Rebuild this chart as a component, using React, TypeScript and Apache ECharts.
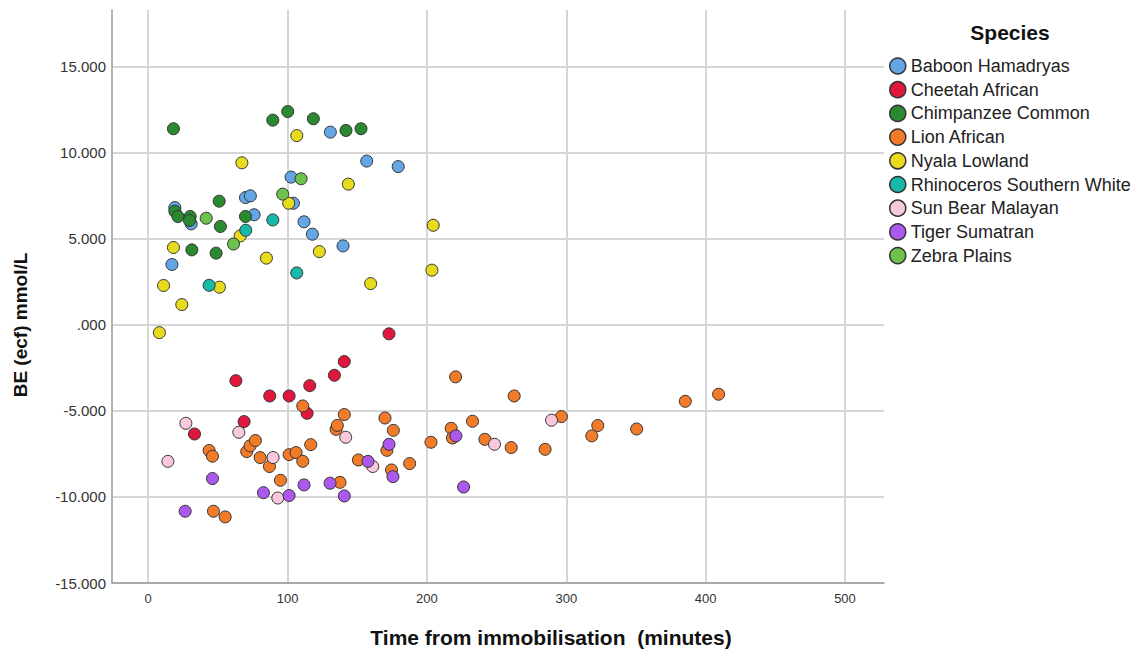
import React, { useEffect, useRef } from "react";
import * as echarts from "echarts";

const speciesNames = [
  "Baboon Hamadryas",
  "Cheetah African",
  "Chimpanzee Common",
  "Lion African",
  "Nyala Lowland",
  "Rhinoceros Southern White",
  "Sun Bear Malayan",
  "Tiger Sumatran",
  "Zebra Plains",
];

const speciesColors = [
  "#64a5e6",
  "#e0173d",
  "#2a8a2f",
  "#f27b2a",
  "#e8da1c",
  "#18b9ab",
  "#f8c8dc",
  "#ad58ec",
  "#6cc24c",
];

const baboon = [
  [19.1, 6.82], [30.8, 5.87], [17, 3.51], [69.8, 7.4], [73.3, 7.5], [76, 6.4],
  [102.5, 8.59], [104.2, 7.07], [111.8, 5.99], [117.8, 5.27], [130.7, 11.2],
  [139.8, 4.59], [156.8, 9.52], [179.4, 9.2],
];
const cheetah = [
  [33.2, -6.34], [62.9, -3.24], [68.8, -5.62], [87.2, -4.13], [101.1, -4.13],
  [114, -5.14], [115.9, -3.53], [133.6, -2.93], [140.7, -2.13], [172.8, -0.52],
];
const chimpanzee = [
  [18.1, 11.4], [19.1, 6.61], [21.3, 6.3], [30.1, 6.3], [29.6, 6.07], [31.3, 4.36],
  [48.7, 4.17], [50.9, 7.19], [51.8, 5.72], [69.8, 6.3], [89.4, 11.9], [100.1, 12.4],
  [118.5, 11.98], [141.9, 11.3], [152.7, 11.4],
];
const lion = [
  [43.7, -7.3], [46.1, -7.63], [46.8, -10.83], [55.2, -11.16], [70.7, -7.36],
  [73.1, -7.03], [76.9, -6.72], [80.3, -7.71], [87, -8.23], [94.9, -9.03],
  [101.1, -7.54], [106.1, -7.42], [110.9, -4.71], [110.9, -7.93], [116.6, -6.96],
  [134.8, -6.07], [135.7, -5.84], [137.6, -9.15], [140.7, -5.21], [150.8, -7.85],
  [169.9, -5.41], [171.3, -7.29], [174.6, -8.43], [175.9, -6.13], [187.6, -8.06],
  [202.9, -6.82], [217.4, -6.01], [218.3, -6.57], [220.6, -3.02], [232.7, -5.6],
  [241.6, -6.65], [260.5, -7.13], [262.6, -4.13], [284.8, -7.23], [296.5, -5.33],
  [318.3, -6.45], [322.6, -5.85], [350.5, -6.05], [385.4, -4.44], [409.3, -4.03],
];
const nyala = [
  [8, -0.45], [11, 2.29], [18.1, 4.5], [24.1, 1.18], [51.1, 2.19], [66, 5.17],
  [67.2, 9.42], [84.8, 3.88], [100.8, 7.07], [106.6, 11.0], [122.8, 4.26],
  [143.6, 8.18], [159.6, 2.4], [203.6, 3.18], [204.5, 5.79],
];
const rhinoceros = [[43.7, 2.3], [70, 5.5], [89.4, 6.1], [106.6, 3.02]];
const sunBear = [
  [14.1, -7.93], [27, -5.72], [65, -6.24], [89.6, -7.71], [93, -10.06],
  [141.7, -6.53], [161.1, -8.23], [248.5, -6.94], [289.4, -5.54],
];
const tiger = [
  [26.5, -10.83], [46.1, -8.93], [82.7, -9.75], [101.1, -9.92], [111.8, -9.3],
  [130.5, -9.2], [140.7, -9.94], [157.7, -7.93], [172.8, -6.94], [175.6, -8.82],
  [220.8, -6.45], [226.3, -9.42],
];
const zebra = [[41.6, 6.2], [61.2, 4.7], [96.5, 7.6], [109.7, 8.49]];

const seriesData = [baboon, cheetah, chimpanzee, lion, nyala, rhinoceros, sunBear, tiger, zebra];

const xTicks = [0, 100, 200, 300, 400, 500];
const yTicks = [-15, -10, -5, 0, 5, 10, 15];

const FONT = "'Liberation Sans', Arial, sans-serif";

export default function App() {
  const ref = useRef<HTMLDivElement>(null);
  useEffect(() => {
    document.body.style.margin = "0";
    const chart = echarts.init(ref.current!, null, { renderer: "svg" });
    chart.setOption({
      animation: false,
      backgroundColor: "#ffffff",
      grid: { left: 112, right: 252, top: 10, bottom: 76, containLabel: false },
      xAxis: {
        type: "value",
        min: -26,
        max: 528,
        axisLine: { show: true, onZero: false, lineStyle: { color: "#9a9a9a", width: 1.5 } },
        axisTick: { show: false, customValues: xTicks },
        axisLabel: {
          customValues: xTicks,
          color: "#333",
          fontSize: 13,
          fontFamily: FONT,
          margin: 9,
        },
        splitLine: { show: true, lineStyle: { color: "#d6d6d6", width: 2 } },
      },
      yAxis: {
        type: "value",
        min: -15,
        max: 18.3,
        interval: 5,
        axisLine: { show: true, onZero: false, lineStyle: { color: "#9a9a9a", width: 1.5 } },
        axisTick: { show: false, customValues: yTicks },
        axisLabel: {
          customValues: yTicks,
          color: "#333",
          fontSize: 15,
          fontFamily: FONT,
          margin: 6,
          formatter: (v: number) => (v === 0 ? ".000" : v.toFixed(3)),
        },
        splitLine: { show: true, lineStyle: { color: "#d6d6d6", width: 2 } },
      },
      legend: {
        orient: "vertical",
        left: 884,
        top: 52,
        itemWidth: 16,
        itemHeight: 16,
        itemGap: 5.7,
        icon: "circle",
        data: speciesNames,
        textStyle: { fontSize: 18, color: "#222", fontFamily: FONT, lineHeight: 18 },
        itemStyle: { borderColor: "#333", borderWidth: 1.5 },
      },
      graphic: [
        {
          type: "text",
          x: 1010,
          y: 32,
          style: {
            text: "Species",
            font: `bold 21px ${FONT}`,
            fill: "#111",
            align: "center",
            verticalAlign: "middle",
          },
        },
        {
          type: "text",
          x: 20,
          y: 325,
          rotation: Math.PI / 2,
          style: {
            text: "BE (ecf) mmol/L",
            font: `bold 19px ${FONT}`,
            fill: "#111",
            align: "center",
            verticalAlign: "middle",
          },
        },
        {
          type: "text",
          x: 551,
          y: 637,
          style: {
            text: "Time from immobilisation  (minutes)",
            font: `bold 21px ${FONT}`,
            fill: "#111",
            align: "center",
            verticalAlign: "middle",
          },
        },
      ],
      series: speciesNames.map((name, i) => ({
        name,
        type: "scatter",
        data: seriesData[i],
        symbol: "circle",
        symbolSize: 12,
        itemStyle: {
          color: speciesColors[i],
          borderColor: "#333",
          borderWidth: 1,
          opacity: 1,
        },
      })),
    });
    return () => chart.dispose();
  }, []);
  return <div ref={ref} style={{ width: 1136, height: 659 }} />;
}
